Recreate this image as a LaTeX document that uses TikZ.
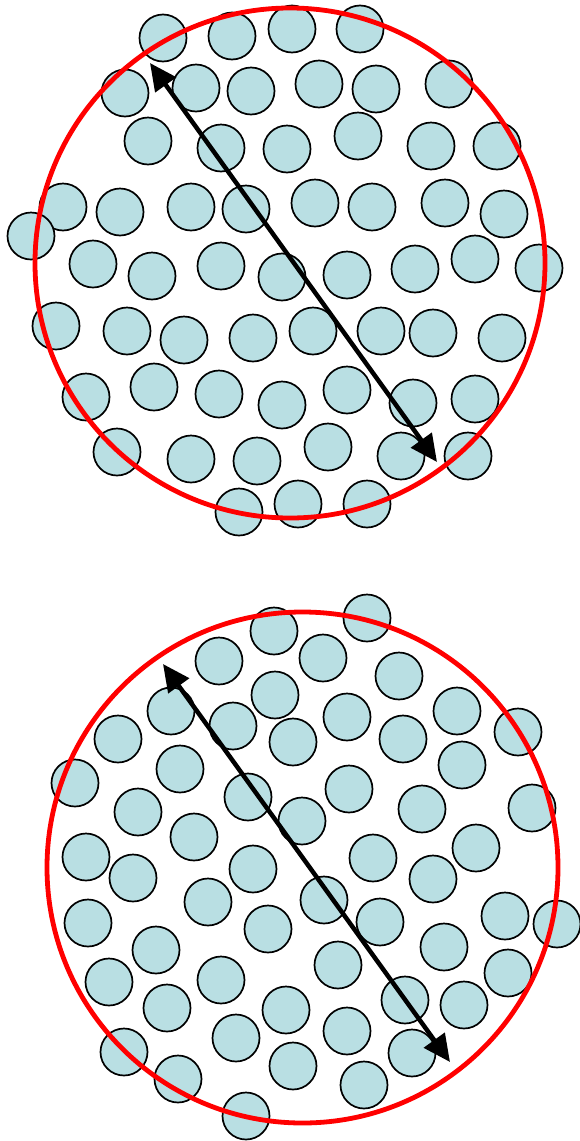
\documentclass[tikz,border=0pt]{standalone}
\usetikzlibrary{arrows.meta}
\definecolor{ballfill}{HTML}{B9DFE3}
\definecolor{ringred}{HTML}{FF0000}
\tikzset{
  ball/.style={circle, draw=black, line width=1.7pt, fill=ballfill, minimum size=47pt, inner sep=0pt},
  ring/.style={draw=ringred, line width=4.8pt},
  diam/.style={draw=black, line width=4.5pt, {Triangle[length=27pt,width=25pt]}-{Triangle[length=27pt,width=25pt]}}
}
\begin{document}
\begin{tikzpicture}[x=1pt,y=-1pt]
\useasboundingbox (0,0) rectangle (580,1141);
% top cluster
\foreach \x/\y [count=\i] in {
163/38,232/36,292/29,360/29,
125/93,196/88,251/91,319/84,376/89,449/84,
148/141,221/148,287/149,358/136,431/146,497/146,
63/207,120/212,191/207,246/209,315/203,372/207,445/203,504/214,31/236,
93/264,152/276,221/266,282/277,347/275,415/269,475/259,539/268,
56/326,127/331,184/340,253/338,313/331,381/331,433/333,502/338,
86/397,154/387,219/394,282/405,347/390,413/403,475/399,
117/452,191/459,257/461,328/447,401/456,468/456,
239/512,298/504,367/504}
  \node[ball] (t\i) at (\x,\y) {};
% bottom cluster
\foreach \x/\y [count=\i] in {
274/631,367/618,219/661,323/658,399/676,275/695,
171/711,233/726,347/717,457/711,518/732,118/739,293/742,403/739,
180/769,462/765,75/783,138/812,248/797,349/789,422/809,532/808,
194/837,302/821,86/857,476/848,133/878,253/869,373/858,433/879,
208/902,324/900,88/923,268/929,380/922,505/916,557/924,
156/950,444/947,109/982,221/980,338/965,508/973,
167/1008,286/1010,405/1000,464/1005,236/1038,347/1031,
124/1052,412/1053,178/1079,293/1066,364/1085,246/1116}
  \node[ball] (b\i) at (\x,\y) {};
% rings
\node[ring, circle, minimum size=510pt, inner sep=0pt] (topring) at (290,263) {};
\node[ring, circle, minimum size=511pt, inner sep=0pt] (botring) at (302.5,867.5) {};
% diameters
\coordinate (ta) at (150,63);
\coordinate (tb) at (437,462);
\coordinate (ba) at (163,664);
\coordinate (bb) at (450,1062);
\draw[diam] (ta) -- (tb);
\draw[diam] (ba) -- (bb);
\end{tikzpicture}
\end{document}
